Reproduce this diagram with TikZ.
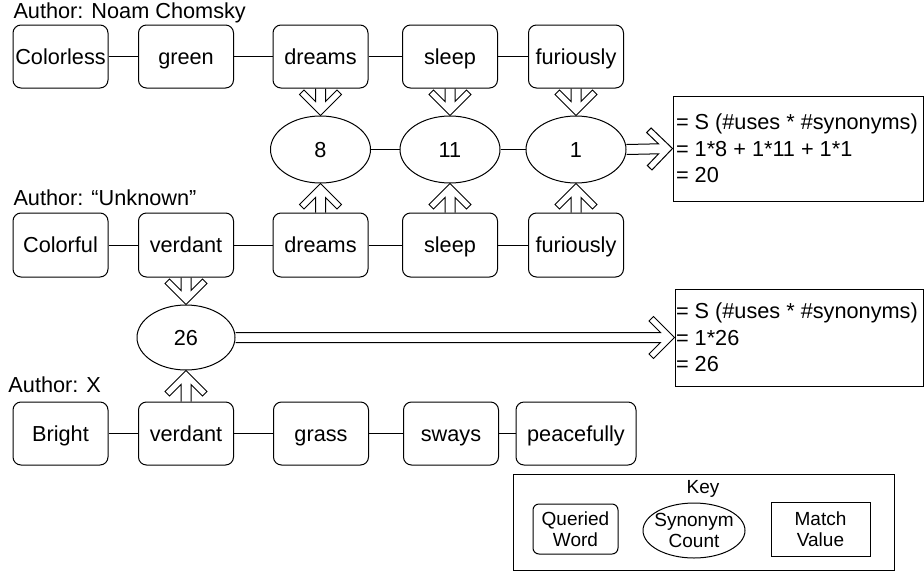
\documentclass[tikz,border=0pt]{standalone}
\usepackage{fontspec}
\setmainfont{Liberation Sans}
\usetikzlibrary{shapes.geometric,calc}
\tikzset{
  base/.style={font=\fontsize{21.7}{26.5}\selectfont, inner sep=1pt, line width=1pt},
  one/.style={text height=15.6pt, text depth=0pt},
  word/.style={base, one, draw, rounded corners=8pt, minimum width=95pt, minimum height=63pt},
  count/.style={base, one, draw, ellipse, minimum width=100pt, minimum height=67pt, inner sep=0pt},
  resbox/.style={draw, line width=1pt, inner sep=0pt},
  restxt/.style={base, align=left, anchor=west, inner sep=0pt},
  lbl/.style={base, anchor=west},
  link/.style={line width=1pt},
  fat/.style={line width=1pt, line join=miter},
  keytxt/.style={font=\fontsize{19}{21.5}\selectfont, inner sep=1pt, line width=1pt, align=center},
}
\newcommand\fatarrow[2]{%
  \draw[fat] let \p1=(#1), \p2=(#2), \n1={atan2(\y1-\y2,\x1-\x2)} in
    ($(\p1)+(\n1+90:5pt)$) -- ($(\p2)+(\n1:14pt)+(\n1+90:5pt)$)
    -- ($(\p2)+(\n1:25.5pt)+(\n1+90:16.5pt)$) -- ($(\p2)+(\n1:21pt)+(\n1+90:21pt)$)
    -- (\p2)
    -- ($(\p2)+(\n1:21pt)+(\n1-90:21pt)$) -- ($(\p2)+(\n1:25.5pt)+(\n1-90:16.5pt)$)
    -- ($(\p2)+(\n1:14pt)+(\n1-90:5pt)$) -- ($(\p1)+(\n1-90:5pt)$);
}
\begin{document}
\begin{tikzpicture}[x=1pt,y=-1pt]
\useasboundingbox (0,0) rectangle (924,571);

% labels
\node[lbl] (a1) at (12,13) {Author: Noam Chomsky};
\node[lbl] (a2) at (12,198) {Author: “Unknown”};
\node[lbl] (a3) at (7,385) {Author: X};

% row 1
\node[word] (b11) at (60.5,56.5) {Colorless};
\node[word] (b12) at (186,56.5) {green};
\node[word] (b13) at (320.5,56.5) {dreams};
\node[word] (b14) at (450,56.5) {sleep};
\node[word] (b15) at (576,56.5) {furiously};

% counts
\node[count] (e1) at (320.5,149.5) {8};
\node[count] (e2) at (450,149.5) {11};
\node[count] (e3) at (576,149.5) {1};

% row 2
\node[word,minimum height=64pt] (b21) at (60.5,245) {Colorful};
\node[word,minimum height=64pt] (b22) at (186,245) {verdant};
\node[word,minimum height=64pt] (b23) at (320.5,245) {dreams};
\node[word,minimum height=64pt] (b24) at (450,245) {sleep};
\node[word,minimum height=64pt] (b25) at (576,245) {furiously};

\node[count,minimum width=98pt,minimum height=65pt] (e4) at (186,337.5) {26};

% row 3
\node[word] (b31) at (60.5,433.5) {Bright};
\node[word] (b32) at (186,433.5) {verdant};
\node[word] (b33) at (321,433.5) {grass};
\node[word] (b34) at (451,433.5) {sways};
\node[word,minimum width=120pt] (b35) at (576,433.5) {peacefully};

% results
\node[resbox, minimum width=250pt, minimum height=105pt] (r1) at (798,148.5) {};
\node[restxt] (r1t) at ($(r1.west)+(3,0)$)
  {= S (\#uses * \#synonyms)\\= 1*8 + 1*11 + 1*1\\= 20};
\node[resbox, minimum width=248pt, minimum height=97pt] (r2) at (799,337.5) {};
\node[restxt] (r2t) at ($(r2.west)+(1,0)$)
  {= S (\#uses * \#synonyms)\\= 1*26\\= 26};

% links
\draw[link] (b11) -- (b12) (b12) -- (b13) (b13) -- (b14) (b14) -- (b15);
\draw[link] (e1) -- (e2) (e2) -- (e3);
\draw[link] (b21) -- (b22) (b22) -- (b23) (b23) -- (b24) (b24) -- (b25);
\draw[link] (b31) -- (b32) (b32) -- (b33) (b33) -- (b34) (b34) -- (b35);

% fat arrows
\fatarrow{b13.south}{e1.north}
\fatarrow{b14.south}{e2.north}
\fatarrow{b15.south}{e3.north}
\fatarrow{b23.north}{e1.south}
\fatarrow{b24.north}{e2.south}
\fatarrow{b25.north}{e3.south}
\fatarrow{b22.south}{e4.north}
\fatarrow{b32.north}{e4.south}
\fatarrow{e3.east}{r1.west}
\fatarrow{e4.east}{r2.west}

% key
\node[draw, line width=1pt, minimum width=381pt, minimum height=96pt, inner sep=0pt] (kbox) at (703.5,522) {};
\node[keytxt] (klbl) at (703,489) {Key};
\node[keytxt, draw, rounded corners=6pt, minimum width=85pt, minimum height=50pt] (kq) at (575.5,529) {Queried\\Word};
\node[keytxt, draw, ellipse, minimum width=102pt, minimum height=55pt, inner sep=-4pt] (ks) at (694,530.5) {Synonym\\Count};
\node[keytxt, draw, minimum width=99pt, minimum height=54pt] (km) at (820.5,529) {Match\\Value};
\end{tikzpicture}
\end{document}
